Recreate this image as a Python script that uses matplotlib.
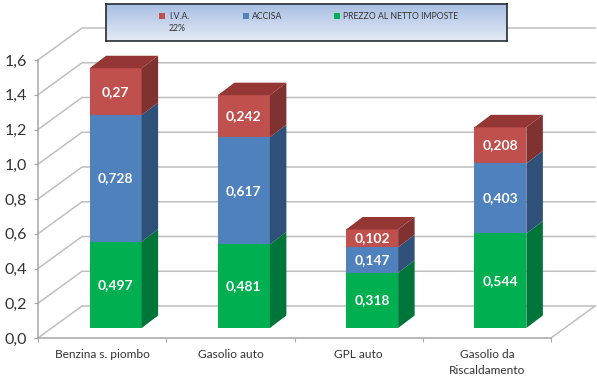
import numpy as np
import matplotlib
matplotlib.use('Agg')
import matplotlib.pyplot as plt
from matplotlib.patches import Polygon

plt.rcParams['font.family'] = ['Lato', 'DejaVu Sans']

categories = ['Benzina s. piombo', 'Gasolio auto', 'GPL auto', 'Gasolio da\nRiscaldamento']
prezzo = [0.497, 0.481, 0.318, 0.544]
accisa = [0.728, 0.617, 0.147, 0.403]
iva = [0.27, 0.242, 0.102, 0.208]
iva_labels = ['0,27', '0,242', '0,102', '0,208']
accisa_labels = ['0,728', '0,617', '0,147', '0,403']
prezzo_labels = ['0,497', '0,481', '0,318', '0,544']
yticks = [0.0, 0.2, 0.4, 0.6, 0.8, 1.0, 1.2, 1.4, 1.6]

W, H = 597, 378
fig = plt.figure(figsize=(W / 100, H / 100), dpi=100)
ax = fig.add_axes([38 / W, (H - 338) / H, 513 / W, 278 / H])
ax.set_xlim(-0.5, 3.5)
ax.set_ylim(0, 1.6)

# fake 3d offsets, in data units
px_x = 4 / 513
px_y = 1.6 / 278
wall_dx, wall_dy = 44 * px_x, 32 * px_y
gap_dx, gap_dy = 13.5 * px_x, 10 * px_y
side_dx, side_dy = 16.5 * px_x, 12.5 * px_y
bar_w = 52 * px_x

grid = '#BFBFBF'
for y in yticks:
    ax.plot([-0.5, -0.5 + wall_dx, 3.5 + wall_dx], [y, y + wall_dy, y + wall_dy],
            color=grid, lw=1.1, clip_on=False, zorder=1)
ax.plot([3.5, 3.5 + wall_dx], [0, wall_dy], color=grid, lw=1.1, clip_on=False, zorder=1)

series = [
    (prezzo, prezzo_labels, '#00B050', '#00753A', '#00753A'),
    (accisa, accisa_labels, '#4F81BD', '#2F5079', '#2F5079'),
    (iva, iva_labels, '#C0504D', '#7F3230', '#943634'),
]

x = np.arange(4) + gap_dx
bottom = np.zeros(4) + gap_dy
for values, labels, front, side, top in series:
    values = np.array(values)
    ax.bar(x, values, bar_w, bottom=bottom, color=front, zorder=3, clip_on=False)
    for i in range(4):
        r = x[i] + bar_w / 2
        b = bottom[i]
        t = b + values[i]
        ax.add_patch(Polygon([(r, b), (r + side_dx, b + side_dy), (r + side_dx, t + side_dy), (r, t)],
                             color=side, lw=0, zorder=3, clip_on=False))
        ax.text(x[i], b + values[i] / 2, labels[i], color='white', fontsize=10, fontweight='bold',
                ha='center', va='center', zorder=5)
    bottom = bottom + values

# top faces of the stacks
for i in range(4):
    l = x[i] - bar_w / 2
    r = x[i] + bar_w / 2
    t = bottom[i]
    ax.add_patch(Polygon([(l, t), (r, t), (r + side_dx, t + side_dy), (l + side_dx, t + side_dy)],
                         color=series[2][4], lw=0, zorder=3, clip_on=False))

for s in ['top', 'right']:
    ax.spines[s].set_visible(False)
for s in ['left', 'bottom']:
    ax.spines[s].set_color('#A6A6A6')
    ax.spines[s].set_linewidth(1.1)
ax.patch.set_alpha(0)

ax.set_yticks(yticks)
ax.set_yticklabels([f'{v:.1f}'.replace('.', ',') for v in yticks], fontsize=11.5, color='#333333')
ax.tick_params(axis='y', length=3, pad=5, color='#A6A6A6')
ax.set_xticks(np.arange(-0.5, 4, 1))
ax.set_xticklabels([])
ax.set_xticks(np.arange(4), minor=True)
ax.set_xticklabels(categories, minor=True, fontsize=8.6, color='#333333', linespacing=1.5)
ax.tick_params(axis='x', which='major', length=3, color='#A6A6A6')
ax.tick_params(axis='x', which='minor', length=0, pad=8)

# legend box with gradient
lg = fig.add_axes([106 / W, (H - 41) / H, 401 / W, 37 / H])
lg.imshow(np.linspace(0, 1, 64).reshape(-1, 1), aspect='auto', extent=[106, 507, 41, 4],
          cmap=matplotlib.colors.LinearSegmentedColormap.from_list('lg', ['#A9BFE3', '#E4EAF5']))
lg.set_xlim(106, 507)
lg.set_ylim(41, 4)
lg.set_xticks([])
lg.set_yticks([])
for s in lg.spines.values():
    s.set_color('#262B33')
    s.set_linewidth(1.2)
lg.scatter([162, 246, 337], [16, 16, 16], marker='s', s=14, c=['#C0504D', '#4F81BD', '#00B050'], lw=0)
lg.text(169, 16.5, 'I.V.A.', fontsize=6.3, color='#333333', va='center')
lg.text(169, 28.5, '22%', fontsize=6.3, color='#333333', va='center')
lg.text(252, 16.5, 'ACCISA', fontsize=6.3, color='#333333', va='center')
lg.text(343, 16.5, 'PREZZO AL NETTO IMPOSTE', fontsize=6.2, color='#333333', va='center')

fig.savefig('out.png', dpi=100)
